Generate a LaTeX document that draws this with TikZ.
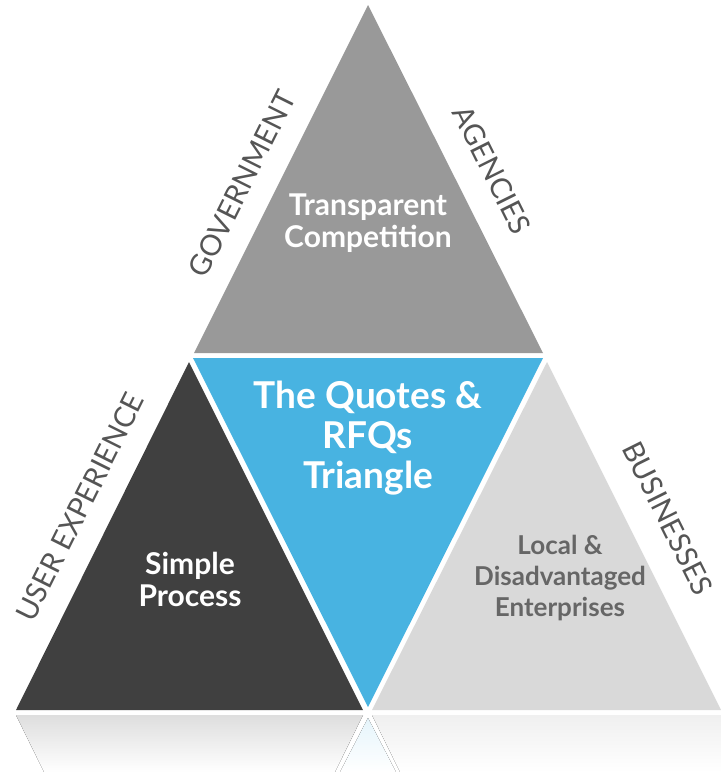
\documentclass[tikz,border=0pt]{standalone}
\usepackage{fontspec}
\setmainfont{Lato}
\usepackage{xcolor}
\usetikzlibrary{positioning, calc}

\definecolor{topgrey}{HTML}{999999}
\definecolor{darkgrey}{HTML}{404040}
\definecolor{lightgrey}{HTML}{D9D9D9}
\definecolor{rfqblue}{HTML}{48B3E1}
\definecolor{labelgrey}{HTML}{555555}
\definecolor{textgrey}{HTML}{666666}

\begin{document}
\begin{tikzpicture}[x=1pt, y=-1pt,
    inner/.style = {align=center, font=\bfseries\fontsize{30}{32}\selectfont, text=white},
    title/.style = {align=center, font=\bfseries\fontsize{37}{40}\selectfont, text=white},
    side/.style = {font=\fontsize{29}{32}\selectfont, text=labelgrey}]
    \useasboundingbox (0,0) rectangle (721,772);

    % Triangles
    \fill[topgrey] (368,5) -- (543,353) -- (194,353) -- cycle;
    \fill[rfqblue] (193,358) -- (543,358) -- (368,707) -- cycle;
    \fill[darkgrey] (189,362) -- (363,710) -- (16,710) -- cycle;
    \fill[lightgrey] (547,362) -- (721,710) -- (372,710) -- cycle;

    % Reflection
    \fill[top color=black!13, bottom color=white] (16,715) -- (363,715) -- (335,772) -- (44,772) -- cycle;
    \fill[top color=rfqblue!14, bottom color=white] (368,718) -- (396,772) -- (340,772) -- cycle;
    \fill[top color=black!6, bottom color=white] (372,715) -- (721,715) -- (721,772) -- (400,772) -- cycle;

    % Nodes
    \node[title] (rfq) at (368,438) {The Quotes \&\\RFQs\\Triangle};
    \node[inner] (comp) at (368,223) {Transparent\\Competition};
    \node[inner] (simple) at (190,579) {Simple\\Process};
    \node[inner, font=\bfseries\fontsize{26}{31}\selectfont, text=textgrey] (local) at (560,578) {Local \&\\Disadvantaged\\Enterprises};

    % Side labels
    \node[side, rotate=63.5] (gov) at (242,184) {GOVERNMENT};
    \node[side, rotate=-63.5] (agen) at (492,170) {AGENCIES};
    \node[side, rotate=63.5] (user) at (80,507) {USER EXPERIENCE};
    \node[side, rotate=-63.5] (bus) at (668,518) {BUSINESSES};
\end{tikzpicture}
\end{document}
